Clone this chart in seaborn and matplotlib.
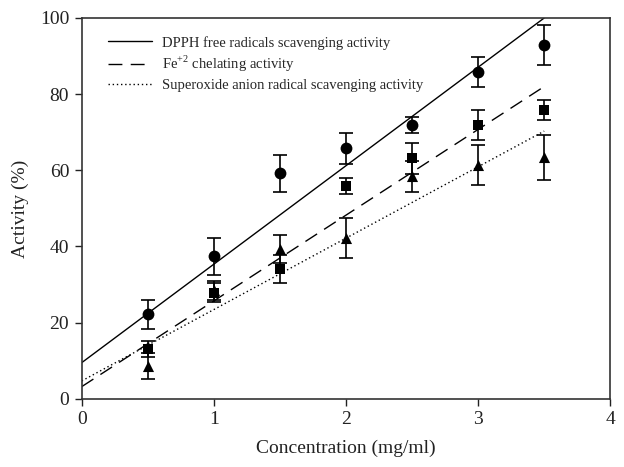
import matplotlib
matplotlib.use("Agg")
import matplotlib.pyplot as plt
import seaborn as sns
import numpy as np
import pandas as pd

# ---- data ----
conc = [0.5, 1.0, 1.5, 2.0, 2.5, 3.0, 3.5]
dpph = [22.2, 37.4, 59.2, 65.8, 71.9, 85.8, 92.9]
dpph_err = [3.8, 4.9, 4.9, 4.1, 2.0, 4.0, 5.2]
fe = [13.1, 27.8, 34.1, 55.9, 63.2, 71.9, 75.9]
fe_err = [2.0, 2.5, 3.6, 2.2, 4.1, 3.9, 2.6]
sup = [8.7, 28.5, 39.3, 42.2, 58.4, 61.4, 63.4]
sup_err = [3.4, 2.5, 3.6, 5.3, 4.0, 5.2, 5.9]

series_names = ["DPPH free radicals scavenging activity",
                "Fe$^{+2}$ chelating activity",
                "Superoxide anion radical scavenging activity"]
# fitted trend lines: value at x=0 and at x=3.5
fit_x = [0.0, 3.5]
fit_start = [9.5, 3.2, 4.7]
fit_end = [100.0, 82.0, 70.3]

x_ticks = [0, 1, 2, 3, 4]
y_ticks = [0, 20, 40, 60, 80, 100]

sns.set_theme(style="ticks")
plt.rcParams["font.family"] = ["Liberation Serif", "DejaVu Serif"]
plt.rcParams["mathtext.fontset"] = "custom"
plt.rcParams["mathtext.rm"] = "Liberation Serif"

fig = plt.figure(figsize=(6.24, 4.67), dpi=100)
ax = fig.add_axes([0.131, 0.146, 0.847, 0.8155])

styles = ["-", (0, (10, 6)), (0, (1, 2))]
lines_df = pd.DataFrame({
    "x": fit_x * 3,
    "y": [fit_start[0], fit_end[0], fit_start[1], fit_end[1], fit_start[2], fit_end[2]],
    "series": [series_names[0]] * 2 + [series_names[1]] * 2 + [series_names[2]] * 2,
})
for i, name in enumerate(series_names):
    sub = lines_df[lines_df["series"] == name]
    sns.lineplot(data=sub, x="x", y="y", ax=ax, color="black", lw=1.0,
                 linestyle=styles[i], label=name, legend=False)

markers = ["o", "s", "^"]
msizes = [8.5, 7, 8]
for vals, errs, m, ms in zip([dpph, fe, sup], [dpph_err, fe_err, sup_err], markers, msizes):
    ax.errorbar(conc, vals, yerr=errs, fmt="none", ecolor="black", elinewidth=1.2,
                capsize=5, capthick=1.2, zorder=3)
    sns.scatterplot(x=conc, y=vals, marker=m, s=ms ** 2, color="black",
                    edgecolor="black", linewidth=0, ax=ax, zorder=4, legend=False)

ax.set_xlim(0, 4)
ax.set_ylim(0, 100)
ax.set_xticks(x_ticks)
ax.set_yticks(y_ticks)
ax.tick_params(direction="out", length=5, width=1.0, labelsize=14, colors="#222222", pad=4)
for s in ax.spines.values():
    s.set_visible(True)
    s.set_linewidth(1.2)
    s.set_color("#333333")
ax.set_xlabel("Concentration (mg/ml)", fontsize=14, color="#222222", labelpad=8)
ax.set_ylabel("Activity (%)", fontsize=14, color="#222222", labelpad=8)

handles, labels = ax.get_legend_handles_labels()
ax.legend(handles[:3], labels[:3], loc="upper left", frameon=False, fontsize=10.5,
          handlelength=3.0, handletextpad=0.7, labelspacing=0.3,
          bbox_to_anchor=(0.03, 0.98), borderaxespad=0.3)

fig.savefig("out.png", dpi=100)
